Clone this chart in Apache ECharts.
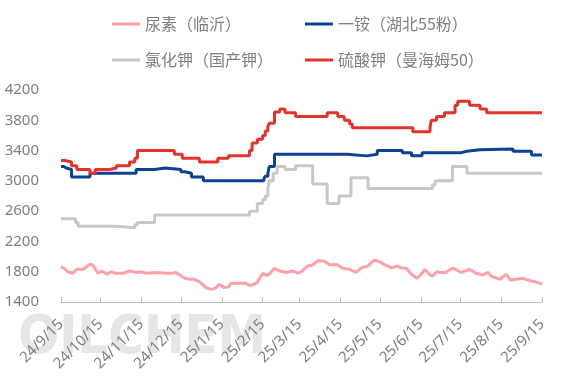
<!DOCTYPE html>
<html>
<head>
<meta charset="utf-8">
<script src="https://cdn.jsdelivr.net/npm/echarts@6/dist/echarts.min.js"></script>
<style>html,body{margin:0;padding:0;background:#fff}#c{width:568px;height:383px}</style>
</head>
<body>
<div id="c"></div>
<script>
// ---- Data ----
const seriesNames = ['尿素（临沂）', '一铵（湖北55粉）', '氯化钾（国产钾）', '硫酸钾（曼海姆50）'];
const tickDates = ['2024-09-15','2024-10-15','2024-11-15','2024-12-15','2025-01-15','2025-02-15','2025-03-15','2025-04-15','2025-05-15','2025-06-15','2025-07-15','2025-08-15','2025-09-15'];
const tickLabels = ['24/9/15','24/10/15','24/11/15','24/12/15','25/1/15','25/2/15','25/3/15','25/4/15','25/5/15','25/6/15','25/7/15','25/8/15','25/9/15'];
const yTicks = [1400, 1800, 2200, 2600, 3000, 3400, 3800, 4200];

// 尿素（临沂） daily line, sampled points
const urea = [
 ['2024-09-15',1866],['2024-09-18',1836],['2024-09-20',1800],['2024-09-24',1779],['2024-09-27',1832],['2024-10-02',1832],
 ['2024-10-07',1898],['2024-10-09',1890],['2024-10-13',1780],['2024-10-16',1809],['2024-10-20',1766],['2024-10-23',1800],
 ['2024-10-26',1780],['2024-11-01',1780],['2024-11-06',1809],['2024-11-11',1790],['2024-11-14',1800],['2024-11-19',1780],
 ['2024-11-26',1790],['2024-12-04',1780],['2024-12-09',1780],['2024-12-11',1790],['2024-12-14',1757],['2024-12-18',1713],
 ['2024-12-22',1700],['2024-12-25',1700],['2024-12-29',1668],['2025-01-03',1589],['2025-01-07',1567],['2025-01-10',1580],
 ['2025-01-13',1633],['2025-01-17',1590],['2025-01-20',1600],['2025-01-22',1647],['2025-02-02',1647],['2025-02-06',1616],
 ['2025-02-11',1660],['2025-02-15',1779],['2025-02-19',1750],['2025-02-24',1845],['2025-02-28',1809],['2025-03-05',1790],
 ['2025-03-10',1809],['2025-03-14',1780],['2025-03-17',1809],['2025-03-21',1876],['2025-03-25',1889],['2025-03-29',1946],
 ['2025-04-03',1940],['2025-04-07',1889],['2025-04-12',1898],['2025-04-17',1845],['2025-04-22',1832],['2025-04-27',1790],
 ['2025-05-01',1850],['2025-05-06',1876],['2025-05-11',1955],['2025-05-15',1930],['2025-05-19',1889],['2025-05-24',1850],
 ['2025-05-28',1876],['2025-05-31',1850],['2025-06-04',1845],['2025-06-08',1766],['2025-06-12',1713],['2025-06-15',1757],
 ['2025-06-18',1832],['2025-06-22',1757],['2025-06-24',1744],['2025-06-27',1800],['2025-06-30',1790],['2025-07-04',1790],
 ['2025-07-09',1850],['2025-07-16',1790],['2025-07-22',1832],['2025-07-27',1780],['2025-08-01',1757],['2025-08-05',1790],
 ['2025-08-08',1735],['2025-08-14',1700],['2025-08-19',1766],['2025-08-22',1690],['2025-08-27',1700],['2025-08-31',1713],
 ['2025-09-06',1682],['2025-09-11',1660],['2025-09-15',1638]
];

// 一铵（湖北55粉） price change points
const map = [
 ['2024-09-15',3190],['2024-09-17',3170],['2024-09-19',3150],['2024-09-23',3050],['2024-10-07',3100],['2024-11-11',3150],
 ['2024-11-25',3170],['2024-12-03',3150],['2024-12-15',3120],['2024-12-18',3100],['2024-12-23',3050],['2025-01-01',3000],
 ['2025-02-16',3030],['2025-02-17',3060],['2025-02-19',3100],['2025-02-20',3190],['2025-02-24',3350],['2025-04-20',3330],
 ['2025-05-05',3350],['2025-05-13',3400],['2025-06-01',3370],['2025-06-08',3330],['2025-06-16',3370],['2025-07-15',3390],
 ['2025-07-20',3410],['2025-07-30',3420],['2025-08-24',3390],['2025-09-07',3340],['2025-09-15',3340]
];

// 氯化钾（国产钾） price change points
const kcl = [
 ['2024-09-15',2500],['2024-09-26',2450],['2024-09-28',2400],['2024-10-27',2380],['2024-11-10',2420],['2024-11-12',2450],
 ['2024-11-25',2550],['2025-02-05',2600],['2025-02-11',2700],['2025-02-15',2750],['2025-02-17',2800],['2025-02-19',2900],
 ['2025-02-20',3000],['2025-02-23',3100],['2025-02-26',3190],['2025-03-04',3150],['2025-03-12',3200],['2025-03-25',2960],
 ['2025-04-05',2700],['2025-04-14',2800],['2025-04-23',3040],['2025-05-06',2900],['2025-06-24',2950],['2025-06-26',3000],
 ['2025-07-09',3190],['2025-07-20',3100],['2025-09-15',3100]
];

// 硫酸钾（曼海姆50） price change points
const sop = [
 ['2024-09-15',3270],['2024-09-18',3250],['2024-09-23',3200],['2024-09-27',3150],['2024-10-07',3100],['2024-10-11',3150],
 ['2024-10-22',3170],['2024-10-27',3200],['2024-11-06',3250],['2024-11-10',3300],['2024-11-12',3400],['2024-12-10',3350],
 ['2024-12-16',3300],['2024-12-29',3250],['2025-01-12',3300],['2025-01-20',3330],['2025-02-05',3400],['2025-02-07',3500],
 ['2025-02-11',3550],['2025-02-15',3600],['2025-02-17',3660],['2025-02-19',3720],['2025-02-20',3760],['2025-02-24',3910],
 ['2025-02-28',3950],['2025-03-04',3900],['2025-03-12',3850],['2025-04-05',3900],['2025-04-13',3850],['2025-04-18',3800],
 ['2025-04-22',3750],['2025-04-24',3700],['2025-06-09',3650],['2025-06-22',3700],['2025-06-23',3800],['2025-06-27',3850],
 ['2025-07-03',3900],['2025-07-11',4000],['2025-07-13',4050],['2025-07-22',4000],['2025-07-30',3950],['2025-08-04',3900],
 ['2025-09-15',3900]
];

const colors = ['#ffa0aa', '#0d4194', '#c8c8c8', '#e2342c'];

// ---- Build chart ----
const origin = Date.parse(tickDates[0]);
const toDay = s => (Date.parse(s) - origin) / 86400000;
const conv = arr => arr.map(p => [toDay(p[0]), p[1]]);
const tickDays = tickDates.map(toDay);
const textColor = '#7f7f7f';

const chart = echarts.init(document.getElementById('c'), null, {renderer: 'canvas'});

function legendAt(name, left, top) {
  return {
    data: [name], left: left, top: top, padding: 0, icon: 'rect',
    itemWidth: 28, itemHeight: 3, selectedMode: false,
    textStyle: {color: textColor, fontSize: 16, fontFamily: 'Noto Sans CJK SC'}
  };
}

const seriesData = [urea, map, kcl, sop];

chart.setOption({
  animation: false,
  backgroundColor: '#fff',
  color: colors,
  legend: [
    legendAt(seriesNames[0], 112, 16),
    legendAt(seriesNames[1], 305, 16),
    legendAt(seriesNames[2], 112, 52),
    legendAt(seriesNames[3], 305, 52)
  ],
  graphic: [{
    type: 'text', left: 18, top: 312, z: -10, silent: true,
    style: {
      text: 'OILCHEM',
      font: 'bold 54px "Liberation Sans Narrow", "DejaVu Sans Condensed", sans-serif',
      fill: 'rgba(205,205,205,0.5)'
    }
  }],
  grid: {left: 61, right: 26, top: 90, bottom: 81, containLabel: false, outerBoundsMode: 'none'},
  xAxis: {
    type: 'value', min: 0, max: tickDays[tickDays.length - 1],
    axisLine: {show: true, lineStyle: {color: '#bfbfbf', width: 1}},
    axisTick: {show: true, inside: true, length: 5, customValues: tickDays, lineStyle: {color: '#bfbfbf'}},
    splitLine: {show: false},
    axisLabel: {
      customValues: tickDays, rotate: 45, margin: 20, color: textColor, fontSize: 15,
      fontFamily: 'Noto Sans',
      formatter: v => { const i = tickDays.indexOf(v); return i >= 0 ? tickLabels[i] : ''; }
    }
  },
  yAxis: {
    type: 'value', min: yTicks[0], max: yTicks[yTicks.length - 1], interval: 400,
    axisLine: {show: false}, axisTick: {show: false}, splitLine: {show: false},
    axisLabel: {color: textColor, fontSize: 15, margin: 22, fontFamily: 'Noto Sans', formatter: v => String(v)}
  },
  series: seriesNames.map((n, i) => ({
    name: n, type: 'line', data: conv(seriesData[i]),
    step: i === 0 ? false : 'end',
    showSymbol: false, symbol: 'none',
    lineStyle: {width: 3, color: colors[i]},
    itemStyle: {color: colors[i]},
    z: i === 0 ? 2 : 3
  }))
});
</script>
</body>
</html>
